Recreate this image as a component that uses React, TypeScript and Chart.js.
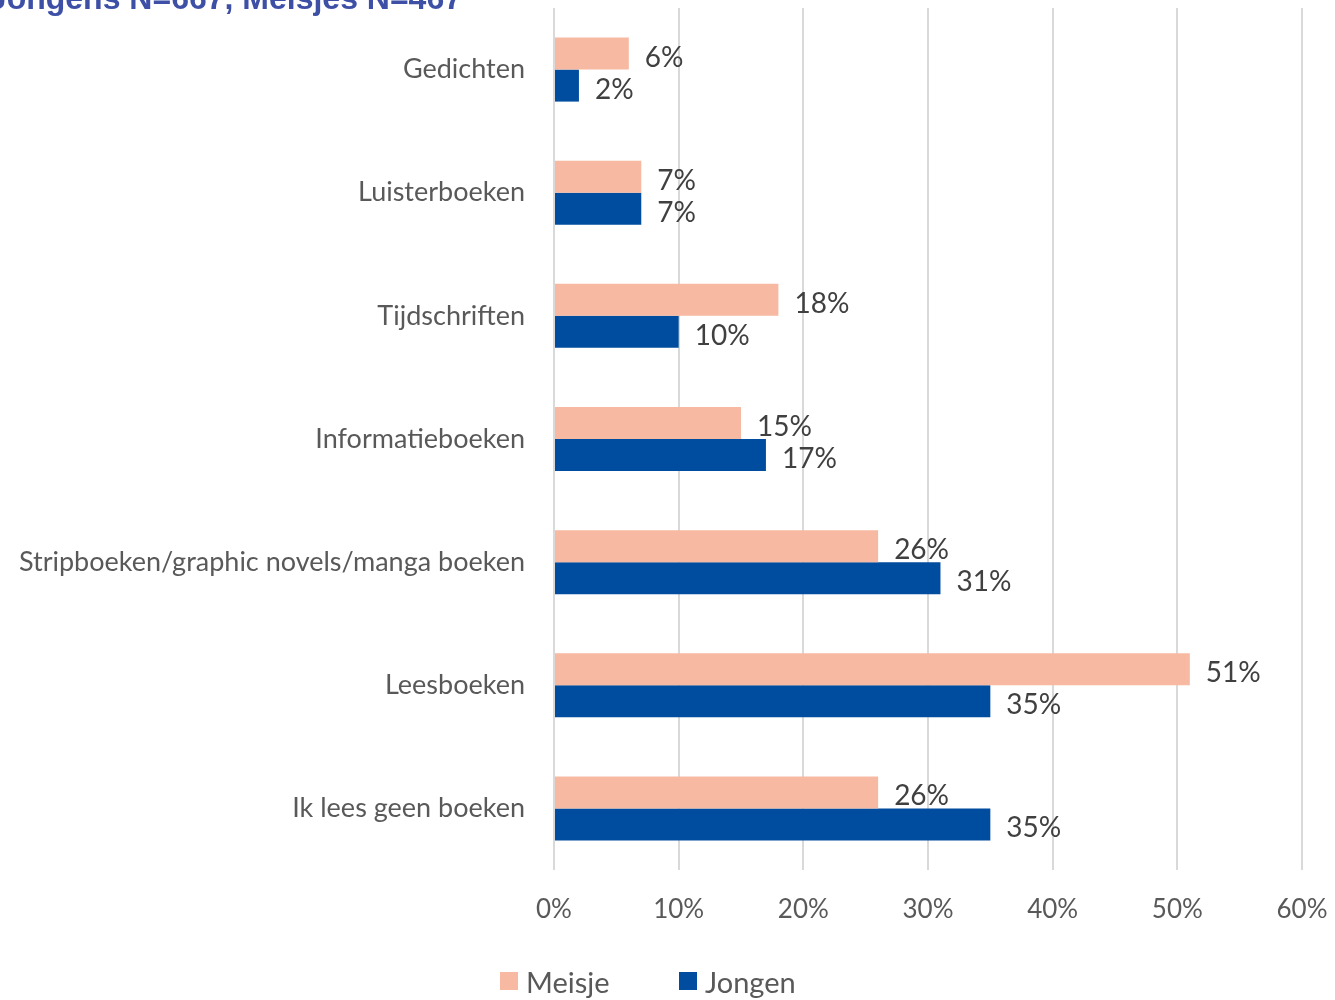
import React, { useEffect, useRef } from "react";
import { Chart, registerables } from "chart.js";

Chart.register(...registerables);

const categories = [
  "Gedichten",
  "Luisterboeken",
  "Tijdschriften",
  "Informatieboeken",
  "Stripboeken/graphic novels/manga boeken",
  "Leesboeken",
  "Ik lees geen boeken",
];
const meisjeValues = [6, 7, 18, 15, 26, 51, 26];
const jongenValues = [2, 7, 10, 17, 31, 35, 35];
const seriesNames = ["Meisje", "Jongen"];
const seriesColors = ["#F7B9A1", "#004C9E"];
const titleText = "Jongens N=667, Meisjes N=467";

const FONT = "Lato, 'Open Sans', sans-serif";

const labelPlugin = {
  id: "barLabels",
  afterDatasetsDraw(chart: any) {
    const ctx = chart.ctx;
    ctx.save();
    ctx.font = `28px ${FONT}`;
    ctx.fillStyle = "#404040";
    ctx.textAlign = "left";
    ctx.textBaseline = "middle";
    chart.data.datasets.forEach((ds: any, di: number) => {
      const meta = chart.getDatasetMeta(di);
      meta.data.forEach((el: any, i: number) => {
        ctx.fillText(ds.data[i] + "%", el.x + 16, el.y + 4);
      });
    });
    ctx.restore();
  },
  afterDraw(chart: any) {
    const ctx = chart.ctx;
    ctx.save();
    // title (partially cut off at top)
    ctx.font = `bold 32px 'Liberation Sans', Arial, sans-serif`;
    ctx.fillStyle = "#3D50A6";
    ctx.textAlign = "right";
    ctx.textBaseline = "alphabetic";
    ctx.fillText(titleText, 462, 9);
    // legend
    ctx.font = `29px ${FONT}`;
    ctx.textBaseline = "middle";
    ctx.textAlign = "left";
    const xs = [500, 679];
    chart.data.datasets.forEach((ds: any, di: number) => {
      ctx.fillStyle = ds.backgroundColor;
      ctx.fillRect(xs[di], 972, 18, 18);
      ctx.fillStyle = "#595959";
      ctx.fillText(ds.label, xs[di] + 26, 984);
    });
    ctx.restore();
  },
};

export default function App() {
  const ref = useRef<HTMLCanvasElement>(null);
  useEffect(() => {
    if (!ref.current) return;
    const chart = new Chart(ref.current, {
      type: "bar",
      data: {
        labels: categories,
        datasets: [
          {
            label: seriesNames[0],
            data: meisjeValues,
            backgroundColor: seriesColors[0],
            categoryPercentage: 0.52,
            barPercentage: 1,
          },
          {
            label: seriesNames[1],
            data: jongenValues,
            backgroundColor: seriesColors[1],
            categoryPercentage: 0.52,
            barPercentage: 1,
          },
        ],
      },
      options: {
        indexAxis: "y",
        animation: false,
        responsive: false,
        maintainAspectRatio: false,
        layout: { padding: { top: 8, bottom: 70, left: 0, right: 33 } },
        plugins: {
          legend: { display: false },
          tooltip: { enabled: false },
          title: { display: false },
        },
        scales: {
          x: {
            min: 0,
            max: 60,
            ticks: {
              stepSize: 10,
              callback: (v: any) => v + "%",
              font: { size: 26, family: FONT },
              color: "#595959",
              padding: 24,
            },
            grid: { color: "#D9D9D9", lineWidth: 2, drawTicks: false },
            border: { display: false },
            afterFit: (s: any) => {
              s.height = 60;
              s.paddingLeft = 0;
              s.paddingRight = 0;
            },
          },
          y: {
            ticks: {
              font: { size: 27, family: FONT },
              color: "#595959",
              padding: 21,
            },
            grid: { display: false },
            border: { display: false },
            afterFit: (s: any) => {
              s.width = 554;
              s.paddingTop = 0;
              s.paddingBottom = 0;
            },
          },
        },
      },
      plugins: [labelPlugin],
    });
    return () => chart.destroy();
  }, []);
  return (
    <div style={{ position: "absolute", top: 0, left: 0, width: 1335, height: 1000, background: "#fff" }}>
      <canvas ref={ref} width={1335} height={1000} />
    </div>
  );
}
